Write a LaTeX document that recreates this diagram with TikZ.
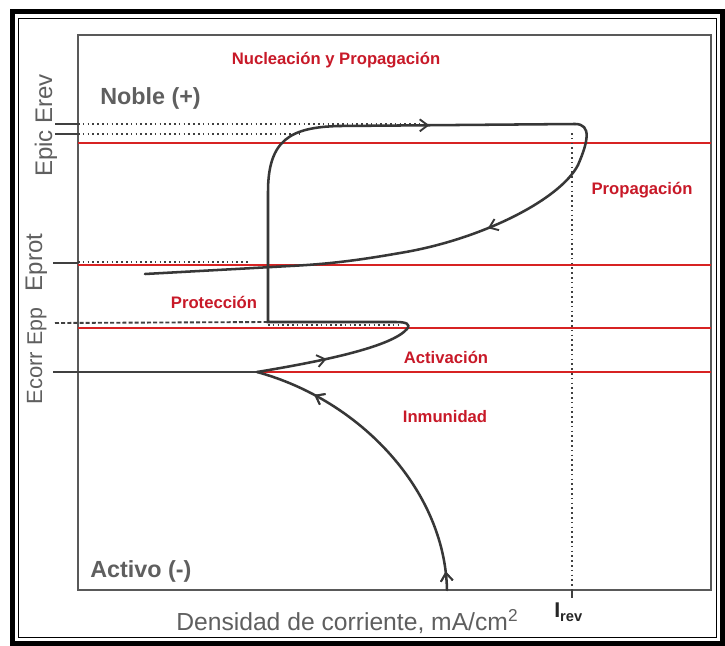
\documentclass[tikz,border=0pt]{standalone}
\usepackage{fontspec}
\setmainfont{Liberation Sans}
\usetikzlibrary{arrows.meta,decorations.markings}
\definecolor{redl}{RGB}{215,35,35}
\definecolor{redt}{RGB}{200,25,40}
\definecolor{grayt}{RGB}{95,95,95}
\definecolor{curvec}{RGB}{55,55,55}
\begin{document}
\begin{tikzpicture}[x=0.75pt,y=-0.75pt,
  redline/.style={draw=redl,line width=1.6pt},
  curve/.style={draw=curvec,line width=1.9pt,line cap=round},
  dotline/.style={draw=black!75,line width=1.4pt,dash pattern=on 1.2pt off 2.4pt},
  tickline/.style={draw=black!75,line width=1.5pt},
  redlabel/.style={text=redt,font=\fontsize{12.5}{14}\selectfont\bfseries,inner sep=0pt},
  graylabel/.style={text=grayt,font=\fontsize{17.5}{20}\selectfont\bfseries,inner sep=0pt},
  axlabel/.style={text=grayt,inner sep=0pt},
  arr/.style={postaction={decorate},decoration={markings,mark=at position #1 with {\arrow{Straight Barb[length=6pt,width=9pt,line width=1.4pt]}}}},
]
\useasboundingbox (0,0) rectangle (725,646);
\fill[white] (0,0) rectangle (725,646);
% outer frame
\draw[line width=3.75pt] (12.5,11.5) rectangle (722,643.5);
\draw[line width=0.9pt] (18.5,18.5) rectangle (716.5,637.5);
% plot box
\draw[draw=black!65,line width=1.5pt] (78,35) rectangle (711,590);

% red level lines
\draw[redline] (78,143) -- (711,143);
\draw[redline] (78,265) -- (711,265);
\draw[redline] (78,328) -- (711,328);

% coordinates of the curve
\coordinate (b0) at (447,590);
\coordinate (tip) at (257,372);
\coordinate (nose) at (407,329);
\coordinate (pass1) at (268,322);
\coordinate (pass2) at (268,192);
\coordinate (top0) at (340,126);
\coordinate (top1) at (575,124);
\coordinate (r1) at (578,165);
\coordinate (r2) at (400,253);
\coordinate (r3) at (290,266);
\coordinate (rend) at (145,274);

\draw[redline] (tip) -- (711,372);

% dotted / dashed reference lines
\draw[dotline] (78,124) -- (420,124);
\draw[dotline] (78,134) -- (300,134);
\draw[dotline] (78,262) -- (250,262);
\draw[draw=black!75,line width=1.4pt,dash pattern=on 3pt off 1.6pt] (55,323) -- (pass1);
\draw[dotline] (pass1) ++(0,3) -- (400,325);
\draw[dotline] (572,133) -- (572,590);
\draw[tickline] (572,590) -- (572,598);

% ticks on the potential axis
\draw[tickline] (55,124) -- (78,124);
\draw[tickline] (55,134) -- (78,134);
\draw[tickline] (53,263) -- (78,263);
\draw[draw=black!75,line width=1.6pt] (53,372) -- (tip);

% polarization curve
\draw[curve,arr=0.06,arr=0.80] (b0) .. controls (445,490) and (360,400) .. (tip);
\draw[curve,arr=0.45] (tip) .. controls (330,360) and (392,346) .. (nose);
\draw[curve] (nose) .. controls (411,324) and (406,322) .. (396,322) -- (pass1) -- (pass2)
  .. controls (268,140) and (290,127) .. (top0);
\draw[curve,arr=0.38] (top0) -- (top1);
\draw[curve] (top1) .. controls (592,124) and (588,142) .. (r1);
\draw[curve,arr=0.55] (r1) .. controls (560,200) and (480,240) .. (r2);
\draw[curve] (r2) .. controls (360,260) and (330,264) .. (r3) -- (rend);

% labels
\node[redlabel] (nuc) at (336,60) {Nucleación y Propagación};
\node[redlabel] (prop) at (642,190) {Propagación};
\node[redlabel] (prot) at (214,302) {Protección};
\node[redlabel] (act) at (446,357) {Activación};
\node[redlabel] (inm) at (445,417) {Inmunidad};

\node[graylabel,anchor=base west] (noble) at (100,104) {Noble (+)};
\node[graylabel,anchor=base west] (activo) at (90,577) {Activo (-)};

\node[axlabel,font=\fontsize{18}{20}\selectfont,rotate=90,anchor=base] (lepic) at (52,125.5) {Epic Erev};
\node[axlabel,font=\fontsize{18}{20}\selectfont,rotate=90,anchor=base] (lprot) at (42,262.5) {Eprot};
\node[axlabel,font=\fontsize{16}{18}\selectfont,rotate=90,anchor=base] (lpp) at (42,327) {Epp};
\node[axlabel,font=\fontsize{16.5}{18}\selectfont,rotate=90,anchor=base] (lcorr) at (42,378) {Ecorr};

\node[axlabel,font=\fontsize{18.5}{20}\selectfont,anchor=base west] (xlab) at (176,630) {Densidad de corriente, mA/cm\textsuperscript{2}};
\node[anchor=base west,inner sep=0pt,text=black!85] (irev) at (554,617)
  {\fontsize{16}{18}\selectfont\bfseries I\raisebox{-3.5pt}{\fontsize{11}{12}\selectfont\bfseries rev}};
\end{tikzpicture}
\end{document}
